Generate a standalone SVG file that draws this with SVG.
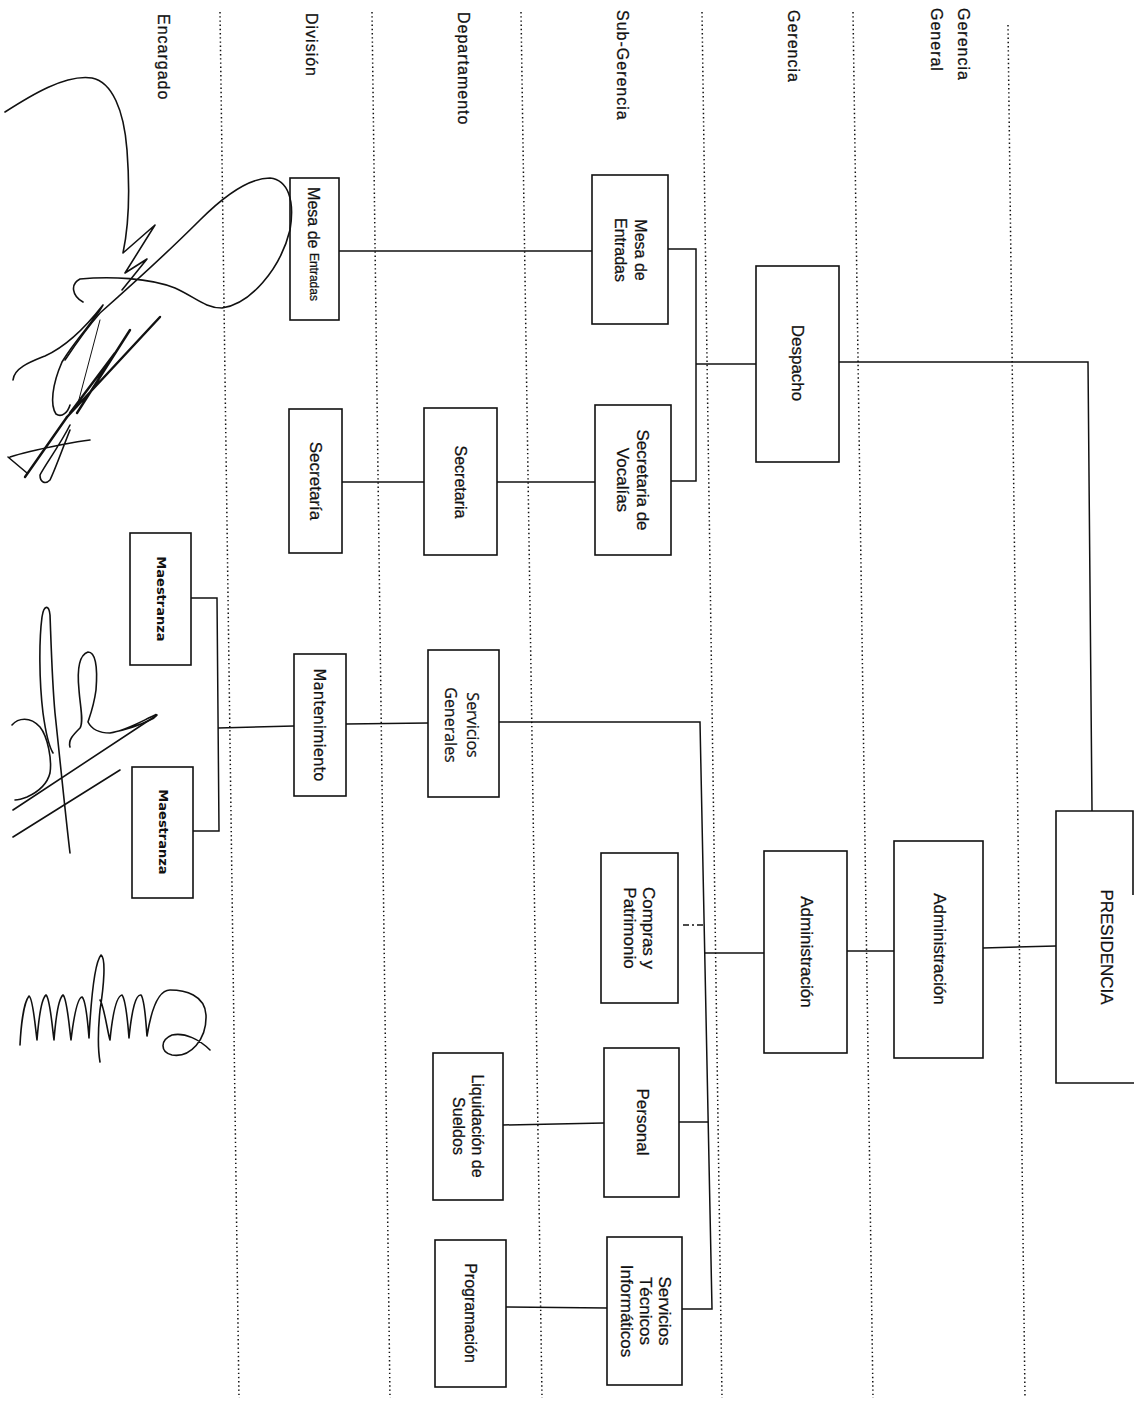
<svg xmlns="http://www.w3.org/2000/svg" width="1134" height="1403" viewBox="0 0 1134 1403">
<style>
.bg{fill:#fff}
.lane{stroke:#111;stroke-width:1.5;stroke-dasharray:1.4 2.8;fill:none}
.box{fill:#fff;stroke:#111;stroke-width:1.6}
.con{stroke:#111;stroke-width:1.5;fill:none}
.dash{stroke:#111;stroke-width:1.5;stroke-dasharray:6 3 2 3;fill:none}
.sig{stroke:#111;stroke-width:1.6;fill:none;stroke-linecap:round;stroke-linejoin:round}
.hd{font-family:"Liberation Sans",Arial,sans-serif;font-size:16px;letter-spacing:1px;fill:#111;stroke:#111;stroke-width:0.25;dominant-baseline:central}
.t{font-family:"Liberation Sans",Arial,sans-serif;font-size:17px;fill:#111;stroke:#111;stroke-width:0.25;text-anchor:middle;dominant-baseline:central}
.t16{font-size:16px}
.os{font-family:"Open Sans","Liberation Sans",sans-serif;font-size:16px}
.dv{font-family:"DejaVu Sans","Liberation Sans",sans-serif;font-size:15px}
.mb{font-family:"DejaVu Sans","Liberation Sans",sans-serif;font-size:13px;font-weight:bold;stroke-width:0}
</style>
<rect class="bg" x="0" y="0" width="1134" height="1403"/>

<g id="lanes">
<line class="lane" x1="220" y1="12" x2="239" y2="1398"/>
<line class="lane" x1="372" y1="12" x2="390" y2="1398"/>
<line class="lane" x1="521" y1="12" x2="542" y2="1398"/>
<line class="lane" x1="702" y1="12" x2="722" y2="1398"/>
<line class="lane" x1="853" y1="12" x2="873" y2="1398"/>
<line class="lane" x1="1008" y1="25" x2="1025" y2="1398"/>
</g>

<g id="headers">
<text class="hd" x="163" y="14" transform="rotate(90 163 14)">Encargado</text>
<text class="hd" x="311" y="13" transform="rotate(90 311 13)">División</text>
<text class="hd" x="463" y="12" transform="rotate(90 463 12)">Departamento</text>
<text class="hd" x="622" y="10" transform="rotate(90 622 10)">Sub-Gerencia</text>
<text class="hd" x="793" y="10" transform="rotate(90 793 10)">Gerencia</text>
<text class="hd" x="963" y="8" transform="rotate(90 963 8)">Gerencia</text>
<text class="hd" x="936" y="8" transform="rotate(90 936 8)">General</text>
</g>

<g id="connectors">
<path class="con" d="M339,251 H592"/>
<path class="con" d="M668,249 H696 V481 H671"/>
<path class="con" d="M696,364 H756"/>
<path class="con" d="M839,362 H1088 L1092,811"/>
<path class="con" d="M342,482 H424"/>
<path class="con" d="M497,482 H595"/>
<path class="con" d="M191,598 H217 L219,831 H193"/>
<path class="con" d="M218,728 L294,726"/>
<path class="con" d="M346,724 L428,723"/>
<path class="con" d="M499,722 H700 L712,1309 H682"/>
<path class="con" d="M764,953 H705"/>
<path class="dash" d="M683,925 H703"/>
<path class="con" d="M679,1122 H708"/>
<path class="con" d="M503,1125 L604,1123"/>
<path class="con" d="M506,1307 L607,1308"/>
<path class="con" d="M847,951 H894"/>
<path class="con" d="M983,948 L1056,946"/>
</g>

<g id="n-mesa-div">
<rect class="box" x="290" y="178" width="49" height="142"/>
<text class="t" x="314" y="244" transform="rotate(90 314 244)"><tspan class="t16">Mesa de </tspan><tspan style="font-size:12px">Entradas</tspan></text>
</g>
<g id="n-mesa-sub">
<rect class="box" x="592" y="175" width="76" height="149"/>
<text class="t t16" x="640" y="250" transform="rotate(90 640 250)">Mesa de</text>
<text class="t t16" x="620" y="250" transform="rotate(90 620 250)">Entradas</text>
</g>
<g id="n-despacho">
<rect class="box" x="756" y="266" width="83" height="196"/>
<text class="t" x="797" y="363" transform="rotate(90 797 363)">Despacho</text>
</g>
<g id="n-secretaria-div">
<rect class="box" x="289" y="409" width="53" height="144"/>
<text class="t" x="315" y="481" transform="rotate(90 315 481)">Secretaría</text>
</g>
<g id="n-secretaria-dep">
<rect class="box" x="424" y="408" width="73" height="147"/>
<text class="t t16" x="460" y="482" transform="rotate(90 460 482)">Secretaria</text>
</g>
<g id="n-vocalias">
<rect class="box" x="595" y="405" width="76" height="150"/>
<text class="t" x="642" y="480" transform="rotate(90 642 480)">Secretaria de</text>
<text class="t" x="622" y="480" transform="rotate(90 622 480)">Vocalías</text>
</g>
<g id="n-maestranza-1">
<rect class="box" x="130" y="533" width="61" height="132"/>
<text class="t mb" x="161" y="599" transform="rotate(90 161 599)">Maestranza</text>
</g>
<g id="n-maestranza-2">
<rect class="box" x="132" y="767" width="61" height="131"/>
<text class="t mb" x="163" y="832" transform="rotate(90 163 832)">Maestranza</text>
</g>
<g id="n-mantenimiento">
<rect class="box" x="294" y="654" width="52" height="142"/>
<text class="t dv" x="319" y="725" transform="rotate(90 319 725)">Mantenimiento</text>
</g>
<g id="n-servicios-generales">
<rect class="box" x="428" y="650" width="71" height="147"/>
<text class="t os" x="473" y="725" transform="rotate(90 473 725)">Servicios</text>
<text class="t os" x="451" y="725" transform="rotate(90 451 725)">Generales</text>
</g>
<g id="n-compras">
<rect class="box" x="601" y="853" width="77" height="150"/>
<text class="t" x="648" y="928" transform="rotate(90 648 928)">Compras y</text>
<text class="t" x="629" y="928" transform="rotate(90 629 928)">Patrimonio</text>
</g>
<g id="n-admin-g">
<rect class="box" x="764" y="851" width="83" height="202"/>
<text class="t" x="806" y="952" transform="rotate(90 806 952)">Administración</text>
</g>
<g id="n-admin-gg">
<rect class="box" x="894" y="841" width="89" height="217"/>
<text class="t" x="939" y="949" transform="rotate(90 939 949)">Administración</text>
</g>
<g id="n-presidencia">
<path class="box" d="M1133,895 V811 H1056 V1083 H1134"/>
<text class="t" x="1106" y="947" transform="rotate(90 1106 947)">PRESIDENCIA</text>
</g>
<g id="n-personal">
<rect class="box" x="604" y="1048" width="75" height="149"/>
<text class="t" x="642" y="1122" transform="rotate(90 642 1122)">Personal</text>
</g>
<g id="n-liquidacion">
<rect class="box" x="433" y="1053" width="70" height="147"/>
<text class="t t16" x="477" y="1126" transform="rotate(90 477 1126)">Liquidación  de</text>
<text class="t t16" x="458" y="1126" transform="rotate(90 458 1126)">Sueldos</text>
</g>
<g id="n-sti">
<rect class="box" x="607" y="1237" width="75" height="148"/>
<text class="t" x="664" y="1311" transform="rotate(90 664 1311)">Servicios</text>
<text class="t" x="645" y="1311" transform="rotate(90 645 1311)">Técnicos</text>
<text class="t" x="626" y="1311" transform="rotate(90 626 1311)">Informáticos</text>
</g>
<g id="n-programacion">
<rect class="box" x="435" y="1240" width="71" height="147"/>
<text class="t t16" x="470" y="1313" transform="rotate(90 470 1313)">Programación</text>
</g>

<g id="signatures">
<path class="sig" d="M5,112 C30,96 65,74 92,78 C112,82 124,110 127,150 C130,190 129,225 123,253 L155,225 L125,273 L147,259 L122,290"/>
<path class="sig" d="M83,302 C72,296 70,284 80,279 C110,276 150,278 175,288 C195,297 205,308 222,308 C250,304 280,270 290,230 C295,200 288,180 270,178 C250,178 225,195 200,220 C170,250 135,282 100,313 C85,330 75,345 65,360"/>
<path class="sig" d="M13,380 C14,368 30,362 45,356 C65,347 85,328 103,305 C95,320 75,340 62,362 C52,385 50,405 56,414 C62,418 68,412 70,405"/>
<path class="sig" style="stroke-width:2.4" d="M160,317 L67,417 M130,330 L77,413 M115,353 L70,413"/>
<path class="sig" style="stroke-width:1" d="M100,320 L77,407"/>
<path class="sig" style="stroke-width:2.4" d="M67,417 L25,477"/>
<path class="sig" d="M10,457 C25,452 45,448 60,445 C70,443 80,441 90,440 M8,457 L27,473 M70,425 C60,445 45,465 40,475 C40,482 45,485 50,480 C55,470 62,450 70,430"/>

<path class="sig" d="M70,853 C66,820 60,760 55,713 C52,680 51,640 50,615 C49,605 44,604 42,617 C39,640 39,680 43,713 C46,735 50,748 53,753"/>
<path class="sig" d="M12,725 C18,718 30,716 40,727 C48,737 52,760 50,773 C47,785 38,792 27,797 C22,799 18,800 15,800"/>
<path class="sig" d="M70,747 C68,740 73,735 80,728 C84,722 80,705 79,690 C77,670 79,655 88,652 C95,652 98,665 96,690 C94,705 90,716 88,722 C92,730 100,733 110,733 C125,731 140,722 155,715 C158,713 156,718 150,720 C140,725 125,730 110,733"/>
<path class="sig" d="M13,810 L157,715 M13,837 L120,770"/>

<path class="sig" d="M20,1045 C21,1025 24,1002 29,996 C33,998 35,1025 37,1040 C39,1015 42,998 46,995 C50,998 52,1025 54,1040 C56,1015 59,998 63,995 C67,998 69,1025 71,1040 C74,1015 78,998 82,997 C86,1000 88,1025 89,1038 C91,1000 95,962 101,955 C106,958 104,985 100,1010 C98,1030 98,1050 100,1062 M100,1000 C104,1005 108,1035 110,1040 C113,1010 117,996 122,995 C126,1000 128,1025 129,1038 C132,1008 136,994 141,995 C145,1000 146,1025 147,1036 C152,1005 160,990 170,990 C185,990 205,995 206,1015 C207,1040 190,1058 172,1055 C160,1052 160,1040 172,1035 C185,1032 200,1040 210,1050"/>
</g>
</svg>
